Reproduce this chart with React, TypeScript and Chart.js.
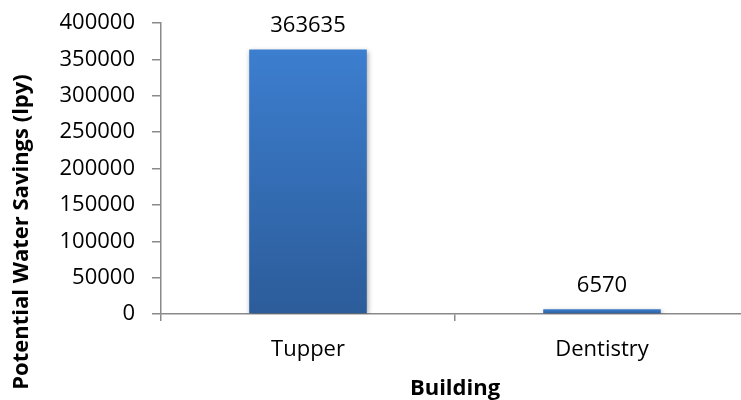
import React, { useEffect, useRef } from "react";
import { Chart, registerables } from "chart.js";

Chart.register(...registerables);

// Data
const buildings = ["Tupper", "Dentistry"];
const savings = [363635, 6570];
const yMax = 400000;
const yStep = 50000;
const yTitle = "Potential Water Savings (lpy)";
const xTitle = "Building";

const FONT = "'Open Sans', 'DejaVu Sans', sans-serif";
const AXIS_GREY = "#8a8a8a";

// Bar fill: light blue at each bar's top to darker blue at its base
function barFill(ctx: any) {
  const chart = ctx.chart;
  const y = chart.scales?.y;
  if (!y || ctx.parsed == null) return "#3a74c0";
  const top = y.getPixelForValue(ctx.parsed.y);
  const base = y.getPixelForValue(0);
  if (!isFinite(top) || !isFinite(base) || Math.abs(base - top) < 1) return "#3a78c6";
  const g = chart.ctx.createLinearGradient(0, top, 0, base);
  g.addColorStop(0, "#3c7ecf");
  g.addColorStop(1, "#2c5c9a");
  return g;
}

const barShadow = {
  id: "barShadow",
  beforeDatasetsDraw(chart: any) {
    const c = chart.ctx;
    c.save();
    c.shadowColor = "rgba(0,0,0,0.35)";
    c.shadowBlur = 5;
    c.shadowOffsetX = 1;
    c.shadowOffsetY = 2;
  },
  afterDatasetsDraw(chart: any) {
    chart.ctx.restore();
  },
};

const valueLabels = {
  id: "valueLabels",
  afterDatasetsDraw(chart: any) {
    const c = chart.ctx;
    const meta = chart.getDatasetMeta(0);
    c.save();
    c.font = `22px ${FONT}`;
    c.fillStyle = "#000";
    c.textAlign = "center";
    c.textBaseline = "alphabetic";
    meta.data.forEach((bar: any, i: number) => {
      c.fillText(String(savings[i]), bar.x, bar.y - 17);
    });
    c.restore();
  },
};

const axisTitles = {
  id: "axisTitles",
  afterDraw(chart: any) {
    const c = chart.ctx;
    const area = chart.chartArea;
    c.save();
    c.font = `bold 22px ${FONT}`;
    c.fillStyle = "#000";
    c.textAlign = "center";
    c.textBaseline = "middle";
    c.fillText(xTitle, (area.left + area.right) / 2, 389);
    c.translate(22, 232);
    c.rotate(-Math.PI / 2);
    c.fillText(yTitle, 0, 0);
    c.restore();
  },
};

export default function App() {
  const ref = useRef<HTMLCanvasElement>(null);

  useEffect(() => {
    if (!ref.current) return;
    const chart = new Chart(ref.current, {
      type: "bar",
      data: {
        labels: buildings,
        datasets: [
          {
            data: savings,
            backgroundColor: barFill,
            borderWidth: 0,
            categoryPercentage: 1,
            barPercentage: 0.4,
          },
        ],
      },
      options: {
        animation: false,
        responsive: true,
        maintainAspectRatio: false,
        layout: { padding: { top: 23, right: 11, bottom: 0, left: 0 } },
        plugins: {
          legend: { display: false },
          tooltip: { enabled: false },
        },
        scales: {
          x: {
            grid: {
              display: true,
              drawOnChartArea: false,
              drawTicks: true,
              tickLength: 7,
              color: AXIS_GREY,
              lineWidth: 1.5,
              offset: true,
            },
            border: { display: true, color: AXIS_GREY, width: 1.5 },
            ticks: {
              color: "#000",
              font: { family: FONT, size: 22 },
              padding: 16,
            },
            afterFit(scale: any) {
              scale.height = 86;
              scale.paddingLeft = 0;
              scale.paddingRight = 0;
            },
          },
          y: {
            min: 0,
            max: yMax,
            grid: {
              display: true,
              drawOnChartArea: false,
              drawTicks: true,
              tickLength: 9,
              color: AXIS_GREY,
              lineWidth: 1.5,
            },
            border: { display: true, color: AXIS_GREY, width: 1.5 },
            ticks: {
              stepSize: yStep,
              color: "#000",
              font: { family: FONT, size: 22 },
              padding: 17,
              callback: (v: any) => String(v),
            },
            afterFit(scale: any) {
              scale.width = 161;
              scale.paddingTop = 0;
              scale.paddingBottom = 0;
            },
          },
        },
      },
      plugins: [barShadow, valueLabels, axisTitles],
    });
    return () => chart.destroy();
  }, []);

  return (
    <div style={{ position: "fixed", left: 0, top: 0, width: 741, height: 400, overflow: "hidden", background: "#fff" }}>
      <div style={{ position: "relative", width: 760, height: 400 }}>
        <canvas ref={ref} />
      </div>
    </div>
  );
}
